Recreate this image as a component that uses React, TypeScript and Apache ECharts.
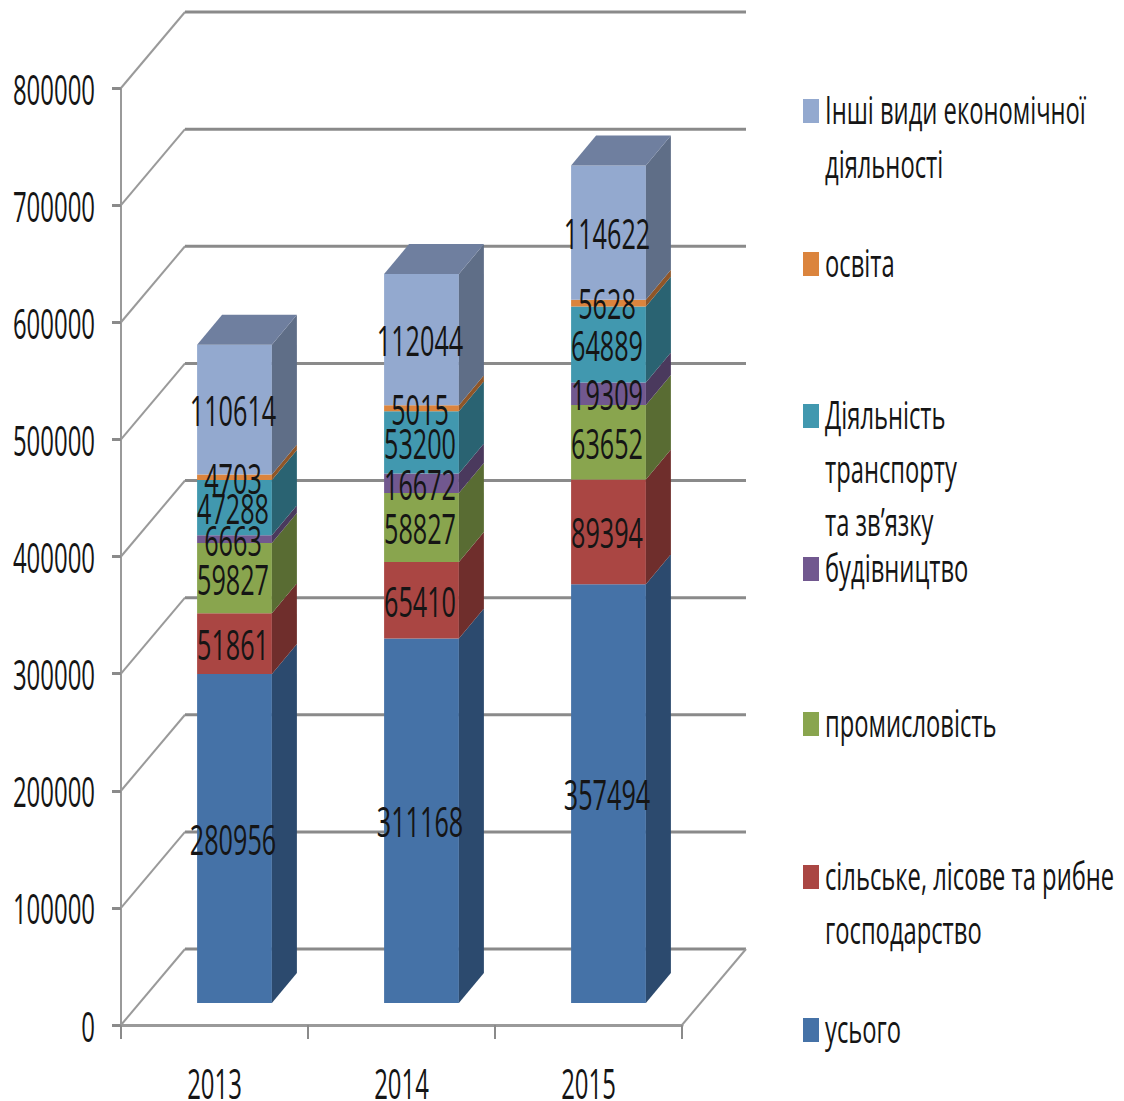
import React, { useEffect, useRef } from "react";
import * as echarts from "echarts";

const years = ["2013", "2014", "2015"];
const yTicks = [0, 100000, 200000, 300000, 400000, 500000, 600000, 700000, 800000];

const total = [280956, 311168, 357494];
const agriculture = [51861, 65410, 89394];
const industry = [59827, 58827, 63652];
const construction = [6663, 16672, 19309];
const transport = [47288, 53200, 64889];
const education = [4703, 5015, 5628];
const other = [110614, 112044, 114622];

const layers = [total, agriculture, industry, construction, transport, education, other];
const layerNames = [
  "усього",
  "сільське, лісове та рибне\nгосподарство",
  "промисловість",
  "будівництво",
  "Діяльність\nтранспорту\nта зв’язку",
  "освіта",
  "Інші види економічної\nдіяльності",
];
const frontColors = ["#4572A7", "#AA4643", "#89A54E", "#71588F", "#4198AF", "#DB843D", "#93A9CF"];
const sideColors = ["#2C4A6E", "#6F2E2C", "#596C33", "#4A395D", "#2A6372", "#8F5628", "#5F6E87"];
const topColor = "#6F7F9F";

// layout
const W = 1124, H = 1101;
const FONT = "Open Sans";
const TXT = "#151515";
const FS = 42, SX = 0.6, AXIS_SX = 0.57;
const wallDx = 64, wallDy = -76;
const barOffX = 20, barOffY = -22, barDepthX = 25, barDepthY = -30, barRatio = 0.4;
const gridColor = "#8a8a8a";
const legendRowY = [1031, 878, 725, 570, 417, 265, 112];

function scaledText(text: string, x: number, y: number, align: string, fs = FS, sx = SX) {
  return {
    type: "text", x, y, scaleX: sx, silent: true,
    style: { text, x: 0, y: 0, textAlign: align, textVerticalAlign: "middle", lineHeight: 34, fontFamily: FONT, fontSize: fs, fill: TXT },
  };
}

function buildSegments() {
  const out: any[][] = layers.map(() => []);
  years.forEach((_, c) => {
    let base = 0;
    layers.forEach((l, i) => {
      out[i].push([c, base, base + l[c], l[c]]);
      base += l[c];
    });
  });
  return out;
}

export default function App() {
  const ref = useRef<HTMLDivElement>(null);
  useEffect(() => {
    document.body.style.margin = "0";
    const chart = echarts.init(ref.current!, undefined, { renderer: "svg" });
    const segs = buildSegments();
    const allSegs = segs.flat();

    const wallSeries = {
      type: "custom", z: 1, silent: true, clip: false,
      data: yTicks.map((v) => [0, v]),
      encode: { x: 0, y: 1 },
      renderItem: (params: any, api: any) => {
        const v = api.value(1);
        const p0 = api.coord([0, v]);
        const bw = api.size([1, 0])[0];
        const x0 = p0[0] - bw / 2, y0 = p0[1];
        const children: any[] = [
          { type: "line", shape: { x1: x0, y1: y0, x2: x0 + wallDx, y2: y0 + wallDy }, style: { stroke: "#9a9a9a", lineWidth: 2 } },
          { type: "line", shape: { x1: x0 + wallDx, y1: y0 + wallDy, x2: x0 + wallDx + bw * 3, y2: y0 + wallDy }, style: { stroke: gridColor, lineWidth: 3 } },
        ];
        if (v === 0) {
          children.push({ type: "line", shape: { x1: x0 + bw * 3, y1: y0, x2: x0 + bw * 3 + wallDx, y2: y0 + wallDy }, style: { stroke: "#9a9a9a", lineWidth: 2 } });
        }
        return { type: "group", children };
      },
    };

    const barSeries = layers.map((_, i) => ({
      type: "custom", z: 2, silent: true, clip: false, name: layerNames[i],
      data: segs[i],
      encode: { x: 0, y: [1, 2] },
      renderItem: (params: any, api: any) => {
        const c = api.value(0);
        const a = api.coord([c, api.value(1)]);
        const b = api.coord([c, api.value(2)]);
        const bw = api.size([1, 0])[0] * barRatio;
        const l = a[0] + barOffX - bw / 2, r = l + bw;
        const yb = a[1] + barOffY, yt = b[1] + barOffY;
        const children: any[] = [
          { type: "rect", shape: { x: l, y: yt, width: bw, height: yb - yt }, style: { fill: frontColors[i] } },
          { type: "polygon", shape: { points: [[r, yb], [r, yt], [r + barDepthX, yt + barDepthY], [r + barDepthX, yb + barDepthY]] }, style: { fill: sideColors[i] } },
        ];
        if (i === layers.length - 1) {
          children.push({ type: "polygon", shape: { points: [[l, yt], [r, yt], [r + barDepthX, yt + barDepthY], [l + barDepthX, yt + barDepthY]] }, style: { fill: topColor } });
        }
        return { type: "group", children };
      },
    }));

    const dataLabelSeries = {
      type: "custom", z: 5, silent: true, clip: false,
      data: allSegs,
      encode: { x: 0, y: [1, 2] },
      renderItem: (params: any, api: any) => {
        const c = api.value(0);
        const m = api.coord([c, (api.value(1) + api.value(2)) / 2]);
        return scaledText(String(api.value(3)), m[0] + 18.5, m[1] + barOffY, "center");
      },
    };

    const yLabelSeries = {
      type: "custom", z: 5, silent: true, clip: false,
      data: yTicks.map((v) => [0, v]),
      encode: { x: 0, y: 1 },
      renderItem: (params: any, api: any) => {
        const p = api.coord([0, api.value(1)]);
        const bw = api.size([1, 0])[0];
        return scaledText(String(api.value(1)), p[0] - bw / 2 - 26, p[1], "right", FS, AXIS_SX);
      },
    };

    const xLabelSeries = {
      type: "custom", z: 5, silent: true, clip: false,
      data: years.map((_, i) => [i, 0]),
      encode: { x: 0, y: 1 },
      renderItem: (params: any, api: any) => {
        const p = api.coord([api.value(0), 0]);
        return scaledText(years[api.value(0)], p[0], p[1] + 57, "center", FS, AXIS_SX);
      },
    };

    const legend: any[] = [];
    layerNames.forEach((n, i) => {
      const y = legendRowY[i];
      legend.push({ type: "rect", shape: { x: 803, y: y - 13, width: 16, height: 24 }, style: { fill: frontColors[i] } });
      legend.push({
        type: "text", x: 825, y: y - 29.5, scaleX: 0.625,
        style: { text: n, x: 0, y: 0, textAlign: "left", textVerticalAlign: "top", lineHeight: 53.5, fontFamily: FONT, fontSize: 38, fill: TXT },
      });
    });

    chart.setOption({
      animation: false,
      backgroundColor: "#ffffff",
      grid: { left: 121, right: W - 682, top: 88, bottom: H - 1025, containLabel: false },
      xAxis: {
        type: "category", data: years, boundaryGap: true,
        axisLine: { lineStyle: { color: "#9a9a9a", width: 3 } },
        axisTick: { show: true, length: 14, lineStyle: { color: "#8a8a8a", width: 2 } },
        axisLabel: { show: false },
      },
      yAxis: {
        type: "value", min: 0, max: 800000, interval: 100000,
        axisLine: { show: true, lineStyle: { color: "#9a9a9a", width: 2 } },
        axisTick: { show: true, length: 9, lineStyle: { color: "#8a8a8a", width: 3 } },
        axisLabel: { show: false },
        splitLine: { show: false },
      },
      graphic: { elements: legend },
      series: [wallSeries, ...barSeries, dataLabelSeries, yLabelSeries, xLabelSeries],
    });
    return () => chart.dispose();
  }, []);
  return <div ref={ref} style={{ width: W, height: H }} />;
}
